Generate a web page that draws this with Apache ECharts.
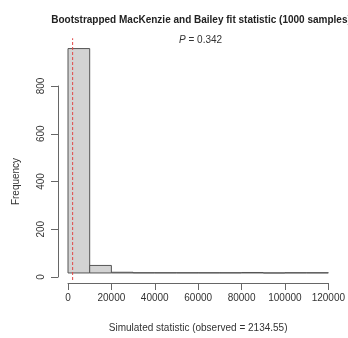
<!DOCTYPE html>
<html>
<head>
<meta charset="utf-8">
<script src="https://cdn.jsdelivr.net/npm/echarts@6/dist/echarts.min.js"></script>
<style>
  html, body { margin: 0; padding: 0; background: #fff; }
  #main { width: 348px; height: 338px; }
</style>
</head>
<body>
<div id="main"></div>
<script>
// histogram bins (width 10000) and counts
var binStarts = [0, 10000, 20000, 30000, 40000, 50000, 60000, 70000, 80000, 90000, 100000, 110000];
var binWidth = 10000;
var counts = [956, 32, 3, 1, 1, 1, 1, 1, 2, 0, 1, 1];
var observed = 2134.55;
var pValue = '0.342';
var xTicks = [0, 20000, 40000, 60000, 80000, 100000, 120000];
var yTicks = [0, 200, 400, 600, 800];

var histData = binStarts.map(function (s, i) { return [s, s + binWidth, counts[i]]; });

var dom = document.getElementById('main');
var chart = echarts.init(dom);

var textCol = '#333';
var axisCol = '#666';
var fontFam = '"Liberation Sans", Arial, sans-serif';

option = {
    animation: false,
    title: {
        text: '{b|Bootstrapped MacKenzie and Bailey fit statistic (1000 samples)}',
        left: 196,
        top: 3,
        textAlign: 'center',
        textStyle: {
            fontWeight: 'normal',
            rich: {
                b: { fontFamily: fontFam, fontWeight: 'bold', fontSize: 10, color: '#222', lineHeight: 24 }
            }
        }
    },
    graphic: [{
        type: 'text',
        left: 179, top: 35,
        style: {
            text: '{i|P}{n| = ' + pValue + '}',
            rich: {
                i: { fontFamily: fontFam, fontStyle: 'italic', fontSize: 10, fill: textCol },
                n: { fontFamily: fontFam, fontSize: 10, fill: textCol }
            }
        }
    }],
    grid: [
        { left: 68, right: 15, top: 38.25, bottom: 53.84 },
        { left: 68, right: 15, top: 86, bottom: 61 }
    ],
    xAxis: [
        {
            type: 'value', gridIndex: 0, min: 0, max: 120000, interval: 20000, offset: 3,
            splitLine: { show: false },
            axisLine: { show: true, onZero: false, lineStyle: { color: axisCol, width: 1 } },
            axisTick: { show: true, length: 7, lineStyle: { color: axisCol } },
            axisLabel: { color: textCol, fontSize: 10, fontFamily: fontFam, margin: 10, showMaxLabel: true,
                formatter: function (v) { return String(v); } },
            name: 'Simulated statistic (observed = ' + observed + ')',
            nameLocation: 'middle', nameGap: 40,
            nameTextStyle: { color: textCol, fontSize: 10, fontFamily: fontFam }
        },
        { type: 'value', gridIndex: 1, min: 0, max: 120000, show: false }
    ],
    yAxis: [
        { type: 'value', gridIndex: 0, min: -30, max: 1000, show: false },
        {
            type: 'value', gridIndex: 1, min: 0, max: 800, interval: 200, offset: 10,
            splitLine: { show: false },
            axisLine: { show: true, onZero: false, lineStyle: { color: axisCol, width: 1 } },
            axisTick: { show: true, length: 7, lineStyle: { color: axisCol } },
            axisLabel: { color: textCol, fontSize: 10, fontFamily: fontFam, rotate: 90, margin: 12 },
            name: 'Frequency',
            nameLocation: 'middle', nameGap: 37, nameRotate: 90,
            nameTextStyle: { color: textCol, fontSize: 10, fontFamily: fontFam }
        }
    ],
    series: [
        {
            type: 'custom',
            xAxisIndex: 0, yAxisIndex: 0,
            data: histData,
            renderItem: function (params, api) {
                var p0 = api.coord([api.value(0), 0]);
                var p1 = api.coord([api.value(1), api.value(2)]);
                return {
                    type: 'rect',
                    shape: { x: p0[0], y: p1[1], width: p1[0] - p0[0], height: p0[1] - p1[1] },
                    style: { fill: '#d3d3d3', stroke: '#555', lineWidth: 1 }
                };
            }
        },
        {
            type: 'line',
            xAxisIndex: 0, yAxisIndex: 0,
            data: [[observed, -30], [observed, 1000]],
            symbol: 'none',
            lineStyle: { color: '#e04848', width: 1, type: [3, 2] }
        }
    ]
};

if (option && typeof option === "object") {
    chart.setOption(option, false);
}
window.onresize = chart.resize;
</script>
</body>
</html>
